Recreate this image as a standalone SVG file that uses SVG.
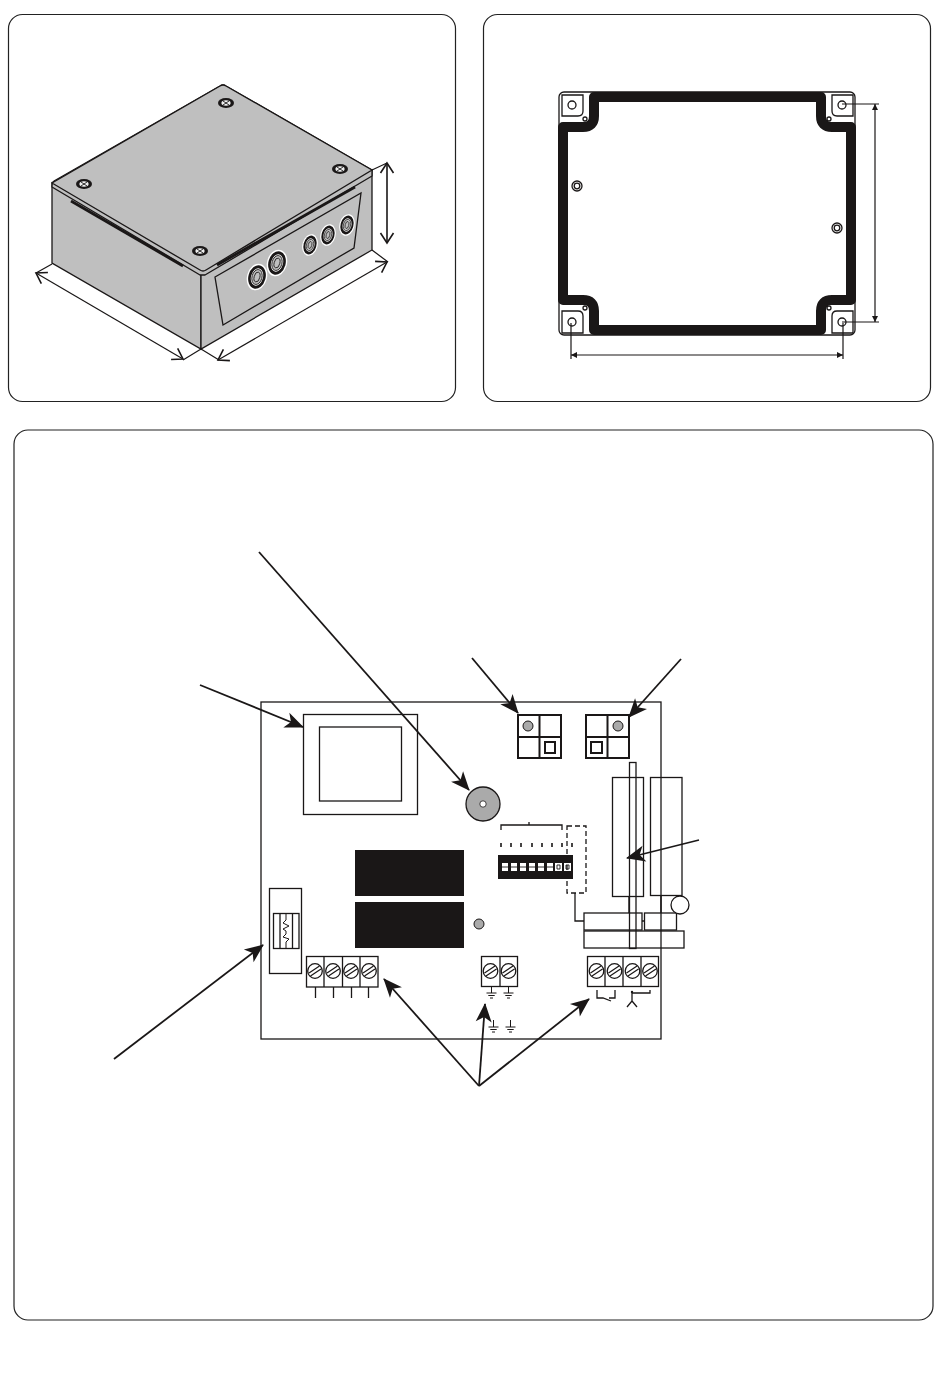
<svg xmlns="http://www.w3.org/2000/svg" xmlns:xlink="http://www.w3.org/1999/xlink" width="950" height="1374" viewBox="0 0 950 1374">
<style>
.panel{fill:#fff;stroke:#222;stroke-width:1.2}
.l{fill:none;stroke:#1a1717;stroke-width:1.3}
.w{fill:#fff;stroke:#1a1717;stroke-width:1.3}
.b{fill:#1a1717;stroke:none}
.g{fill:#bfbfbf;stroke:#1a1717;stroke-width:1.3}
.dot{fill:#aaa;stroke:#1a1717;stroke-width:1}
.dim{fill:none;stroke:#1a1717;stroke-width:1.2}
.lead{fill:none;stroke:#1a1717;stroke-width:1.8;marker-end:url(#head)}
.vee{marker-start:url(#vee);marker-end:url(#vee)}
.tri{marker-start:url(#tri);marker-end:url(#tri)}
.sq{fill:#fff;stroke:#1a1717;stroke-width:2}
</style>
<defs>
<marker id="head" viewBox="-20 -10 22 20" refX="-1" refY="0" markerWidth="22" markerHeight="20" markerUnits="userSpaceOnUse" orient="auto"><path d="M0,0 L-19,-8 L-14,0 L-19,8 Z" fill="#1a1717"/></marker>
<marker id="vee" viewBox="-12 -8 14 16" refX="0" refY="0" markerWidth="14" markerHeight="16" markerUnits="userSpaceOnUse" orient="auto-start-reverse"><path d="M-10,-6.5 L0,0 L-10,6.5" fill="none" stroke="#1a1717" stroke-width="1.6"/></marker>
<marker id="tri" viewBox="-7 -4 8 8" refX="0" refY="0" markerWidth="8" markerHeight="8" markerUnits="userSpaceOnUse" orient="auto-start-reverse"><path d="M0,0 L-6,-3 L-6,3 Z" fill="#1a1717"/></marker>
<g id="screw"><circle r="7.3" fill="#fff" stroke="#1a1717" stroke-width="1.3"/><path d="M-6,2 L4.5,-5 M-4.5,5 L6,-2" stroke="#1a1717" stroke-width="1.2" fill="none"/></g>
<g id="lidscrew"><ellipse rx="8" ry="5" fill="#1a1717"/><ellipse rx="4.6" ry="2.8" fill="#eee"/><path d="M-3,-2 L3,2 M-3,2 L3,-2" stroke="#1a1717" stroke-width="0.9"/></g>
<g id="gl"><ellipse rx="10" ry="13.5" fill="#fff"/><ellipse rx="8.6" ry="12" fill="#1a1717"/><ellipse rx="6" ry="8.8" fill="#fff"/><ellipse rx="5" ry="7.6" fill="#bfbfbf" stroke="#1a1717" stroke-width="0.8"/><ellipse rx="2.8" ry="5" fill="none" stroke="#1a1717" stroke-width="0.8"/></g>
<g id="gs"><ellipse rx="7.6" ry="11" fill="#fff"/><ellipse rx="6.4" ry="9.6" fill="#1a1717"/><ellipse rx="4.4" ry="6.8" fill="#fff"/><ellipse rx="3.6" ry="5.8" fill="#bfbfbf" stroke="#1a1717" stroke-width="0.7"/><ellipse rx="1.8" ry="3.6" fill="none" stroke="#1a1717" stroke-width="0.7"/></g>
<g id="gnd"><path d="M0,0 V7 M-5,7 H5 M-3.2,9.5 H3.2 M-1.5,12 H1.5" stroke="#1a1717" stroke-width="1" fill="none"/></g>
</defs>
<rect width="950" height="1374" fill="#fff"/>

<g id="panel-enclosure">
<rect class="panel" x="8.5" y="14.5" width="447" height="387" rx="14"/>
<g id="box">
<path class="g" d="M52,183 V263 L201,349 V272 Z"/>
<path class="g" d="M201,272 V349 L372,250 V170 Z"/>
<path class="g" d="M52,187 L200,275 L205,275 L372,176 V170 L226,86 Q223,84 220,86 L54,181 Q52,182 52,187 Z" stroke-linejoin="round"/>
<path class="g" d="M52,183 L200,270 Q203,272 206,270 L372,170 L226,86 Q223,84 220,86 Z"/>
<path d="M71,201 L183,266" stroke="#1a1717" stroke-width="2.8" fill="none"/>
<path d="M217,265 L355,187" stroke="#1a1717" stroke-width="2.8" fill="none"/>
<path class="g" d="M215,277 L361,193 L354,248 L223,325 Z"/>
<use xlink:href="#lidscrew" href="#lidscrew" x="226" y="103"/>
<use xlink:href="#lidscrew" href="#lidscrew" x="340" y="169"/>
<use xlink:href="#lidscrew" href="#lidscrew" x="84" y="184"/>
<use xlink:href="#lidscrew" href="#lidscrew" x="200" y="251"/>
<use xlink:href="#gl" href="#gl" transform="translate(257,277) rotate(15)"/>
<use xlink:href="#gl" href="#gl" transform="translate(277,263) rotate(15)"/>
<use xlink:href="#gs" href="#gs" transform="translate(310,245) rotate(15)"/>
<use xlink:href="#gs" href="#gs" transform="translate(328,235) rotate(15)"/>
<use xlink:href="#gs" href="#gs" transform="translate(347,225) rotate(15)"/>
</g>
<g id="box-dimensions">
<path class="dim" d="M52,264 L36,273 M201,349 L183,360 M201,349 L219,360 M372,250 L388,262 M372,170 L387,163"/>
<path class="dim vee" d="M36,273 L183,359"/>
<path class="dim vee" d="M218,360 L387,262"/>
<path class="dim vee" style="stroke-width:1.6" d="M387,163 V243"/>
</g>
</g>

<g id="panel-mounting">
<rect class="panel" x="483.5" y="14.5" width="447" height="387" rx="14"/>
<rect x="559" y="92" width="296" height="243" rx="5" fill="#fff" stroke="#1a1717" stroke-width="1.3"/>
<path d="M594,97 H821 V116 Q821,127 832,127 H851 V300 H832 Q821,300 821,311 V330 H594 V311 Q594,300 583,300 H563 V127 H583 Q594,127 594,116 Z" fill="#fff" stroke="#1a1717" stroke-width="10" stroke-linejoin="round"/>
<path class="l" d="M562,95 H583 V111 Q583,116 578,116 H562 Z M832,95 H853 V116 H837 Q832,116 832,111 Z M562,311 H578 Q583,311 583,316 V333 H562 Z M832,316 Q832,311 837,311 H853 V333 H832 Z"/>
<g fill="#fff" stroke="#1a1717" stroke-width="1.3">
<circle cx="572" cy="105" r="4"/><circle cx="842" cy="105" r="4"/><circle cx="572" cy="322" r="4"/><circle cx="842" cy="322" r="4"/>
<circle cx="585" cy="119" r="2"/><circle cx="829" cy="119" r="2"/><circle cx="585" cy="308" r="2"/><circle cx="829" cy="308" r="2"/>
<circle cx="577" cy="186" r="5"/><circle cx="577" cy="186" r="2.8"/><circle cx="837" cy="228" r="5"/><circle cx="837" cy="228" r="2.8"/>
</g>
<path class="dim" d="M842,104 H879 M842,322 H879 M571,323 V359 M843,323 V359"/>
<path class="dim tri" d="M875,104 V322"/>
<path class="dim tri" d="M571,355 H843"/>
</g>

<g id="panel-board">
<rect class="panel" x="14" y="430" width="919" height="890" rx="14"/>
<rect class="l" x="261" y="702" width="400" height="337"/>
</g>

<g id="transformer"><rect class="l" x="303.500" y="714.500" width="114" height="100"/><rect class="l" x="319.500" y="727" width="82" height="74"/></g>
<g id="switch-1">
<rect class="sq" x="518" y="715" width="43" height="43"/><path class="l" style="stroke-width:2" d="M539.500,715 V758 M518,737 H561"/>
<circle class="dot" cx="528" cy="726" r="5"/><rect class="l" style="stroke-width:2" x="545" y="742" width="10" height="11"/>
</g>
<g id="switch-2">
<rect class="sq" x="586" y="715" width="43" height="43"/><path class="l" style="stroke-width:2" d="M607.500,715 V758 M586,737 H629"/>
<circle class="dot" cx="618" cy="726" r="5"/><rect class="l" style="stroke-width:2" x="591" y="742" width="11" height="11"/>
</g>
<g id="buzzer"><circle class="dot" cx="483" cy="804" r="17" style="stroke-width:1.3"/><circle cx="483" cy="804" r="3.200" fill="#fff" stroke="#1a1717" stroke-width="0.8"/></g>
<g id="dip-switch">
<path class="l" d="M501,830 V825 H562 V830 M529,825 V822"/>
<path d="M501,843 V847 M511,843 V847 M521,843 V847 M532,843 V847 M542,843 V847 M552,843 V847 M562,843 V847 M572,843 V847" stroke="#1a1717" stroke-width="1.6"/>
<rect class="b" x="498" y="855" width="75" height="24"/>
<g fill="#fff">
<rect x="502" y="863" width="6" height="8"/><rect x="511" y="863" width="6" height="8"/><rect x="520" y="863" width="6" height="8"/><rect x="529" y="863" width="6" height="8"/><rect x="538" y="863" width="6" height="8"/><rect x="547" y="863" width="6" height="8"/><rect x="555" y="863" width="7" height="8"/><rect x="564" y="863" width="7" height="8"/>
</g>
<path d="M502,867 H508 M511,867 H517 M520,867 H526 M529,867 H535 M538,867 H544 M547,867 H553 M557,865 H560 V869 H557 Z M566,865 H569 V869 H566 Z" stroke="#1a1717" stroke-width="0.9" fill="none"/>
</g>
<g id="jumper"><rect class="l" x="567" y="826" width="19" height="67" style="stroke-dasharray:5 3"/><path class="l" d="M575,893 V921 H584"/></g>
<g id="connector-left"><rect class="l" x="612.500" y="777.500" width="31" height="119"/></g>
<g id="connector-right"><rect class="l" x="650.500" y="777.500" width="31.500" height="118"/></g>
<g id="connector-lower">
<path d="M629,897 V913 M661,896 V913" stroke="#1a1717" stroke-width="1.4"/>
<rect class="l" x="584" y="913" width="58" height="17"/><rect class="l" x="644.500" y="913" width="32" height="17"/><rect class="l" x="584" y="931" width="100" height="17"/>
<path class="l" d="M642,921 H644"/>
<rect class="l" x="629.500" y="762.500" width="6.500" height="186"/>
<circle cx="680" cy="905" r="9" fill="#fff" stroke="#1a1717" stroke-width="1.3"/>
</g>
<g id="relay-1"><rect class="b" x="355" y="850" width="109" height="46"/></g>
<g id="relay-2"><rect class="b" x="355" y="902" width="109" height="46"/></g>
<g id="led"><circle class="dot" cx="479" cy="924" r="5"/></g>
<g id="fuse">
<rect class="l" x="269.500" y="888.500" width="32" height="85"/>
<rect class="l" x="273.500" y="913.500" width="25.500" height="35"/>
<path class="l" d="M280,913.500 V948.500 M292.500,913.500 V948.500"/>
<path class="l" style="stroke-width:1" d="M286,913.500 V920 L283,923 L289,926 L283,929 L286,931 V934 L283,937 L289,939 L286,942 V948.500"/>
</g>
<g id="terminal-1">
<rect class="l" x="306.500" y="956.500" width="71.500" height="30.500"/><path class="l" d="M324,956.500 V987 M342.500,956.500 V987 M360,956.500 V987 M315.500,987 V998 M333.500,987 V998 M351.500,987 V998 M368.500,987 V998"/>
<use xlink:href="#screw" href="#screw" x="315" y="971"/><use xlink:href="#screw" href="#screw" x="333" y="971"/><use xlink:href="#screw" href="#screw" x="351" y="971"/><use xlink:href="#screw" href="#screw" x="369" y="971"/>
</g>
<g id="terminal-2">
<rect class="l" x="481.500" y="956.500" width="36" height="30"/><path class="l" d="M500,956.500 V986.500"/>
<use xlink:href="#screw" href="#screw" x="490.500" y="971"/><use xlink:href="#screw" href="#screw" x="508.500" y="971"/>
<use xlink:href="#gnd" href="#gnd" x="491.500" y="986"/><use xlink:href="#gnd" href="#gnd" x="508.500" y="986"/>
<use xlink:href="#gnd" href="#gnd" x="493.500" y="1020"/><use xlink:href="#gnd" href="#gnd" x="510.500" y="1020"/>
</g>
<g id="terminal-3">
<rect class="l" x="587.500" y="956.500" width="71" height="30"/><path class="l" d="M605,956.500 V986.500 M623,956.500 V986.500 M641,956.500 V986.500"/>
<use xlink:href="#screw" href="#screw" x="596.500" y="971"/><use xlink:href="#screw" href="#screw" x="614.500" y="971"/><use xlink:href="#screw" href="#screw" x="632.500" y="971"/><use xlink:href="#screw" href="#screw" x="650" y="971"/>
<path class="l" d="M597,990 V998 H603 L611,1001 M615,990 V998 H609"/>
<path class="l" d="M632,991 V1001 L627,1007 M632,1001 L637,1007 M632,993 H650 V990"/>
<circle cx="632" cy="992" r="1.200" fill="#1a1717"/>
</g>

<g id="connectors">
<path class="lead" d="M259,552 L469,790"/>
<path class="lead" d="M200,685 L303,727"/>
<path class="lead" d="M472,658 L518,713"/>
<path class="lead" d="M681,659 L629,717"/>
<path class="lead" d="M699,840 L627,858"/>
<path class="lead" d="M114,1059 L263,945"/>
<path class="lead" d="M479,1086 L384,979"/>
<path class="lead" d="M479,1086 L485,1004"/>
<path class="lead" d="M479,1086 L589,999"/>
</g>
</svg>
